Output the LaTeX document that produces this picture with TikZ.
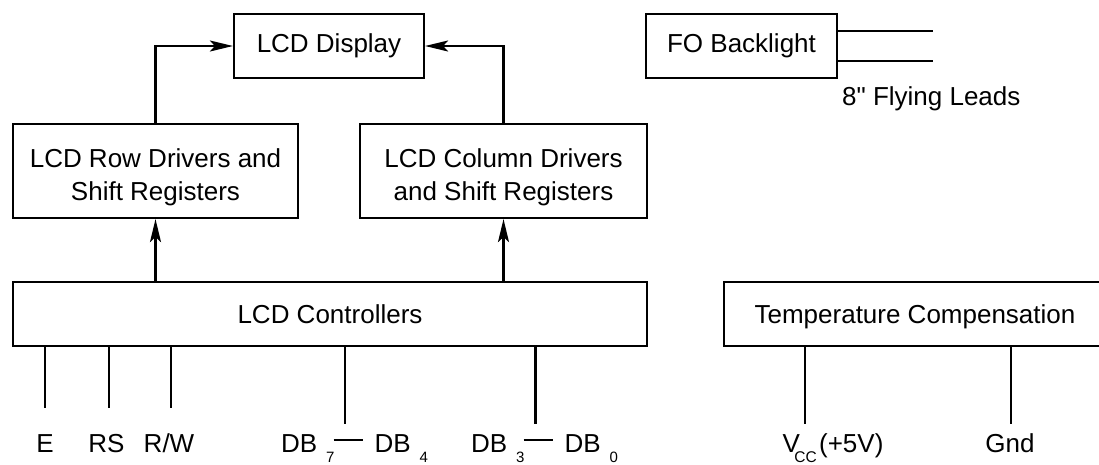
\documentclass[tikz,border=0pt]{standalone}
\usepackage{fontspec}
\setmainfont{Liberation Sans}
\usetikzlibrary{arrows.meta}
\newcommand{\lowsub}[1]{\kern9pt\raisebox{-10pt}{\fontsize{15}{15}\selectfont #1}}
\newcommand{\busdash}{\kern-1pt\rule[11pt]{29pt}{2pt}\kern12pt}
\newcommand{\twolines}[2]{\begin{tabular}{@{}c@{}}\rule{0pt}{35pt}#1\\#2\end{tabular}}
\begin{document}
\begin{tikzpicture}[x=1pt,y=1pt,line width=2.2pt]
  \tikzstyle{every node}+=[inner sep=0pt,font=\fontsize{26}{33}\selectfont]
  \tikzstyle{box}=[draw,align=center]
  \tikzstyle{arr}=[-{Stealth[length=23pt,width=11pt,inset=5pt]}]
  \tikzstyle{pin}=[anchor=base]
  \useasboundingbox (0,0) rectangle (1099,-464);
  \node[box,minimum width=190,minimum height=64] (disp) at (329,-46) {LCD Display};
  \node[box,minimum width=191,minimum height=64] (fo) at (741.5,-46) {FO Backlight};
  \node[box,minimum width=285,minimum height=94] (row) at (155.5,-171) {\twolines{LCD Row Drivers and}{Shift Registers}};
  \node[box,minimum width=287,minimum height=94] (col) at (503.5,-171) {\twolines{LCD Column Drivers}{and Shift Registers}};
  \node[box,minimum width=634,minimum height=64,text depth=0pt] (ctrl) at (330,-314) {LCD Controllers};
  \node[box,minimum width=382,minimum height=64,text depth=0pt] (temp) at (915,-314) {Temperature Compensation};
  \draw[arr] (row.north) |- (disp.west);
  \draw[arr] (col.north) |- (disp.east);
  \draw[arr] (ctrl.north -| row.south) -- (row.south);
  \draw[arr] (ctrl.north -| col.south) -- (col.south);
  \coordinate (lead1) at (933,-31);
  \coordinate (lead2) at (933,-61);
  \draw (fo.east |- lead1) -- (lead1);
  \draw (fo.east |- lead2) -- (lead2);
  \node[anchor=base west] (leads) at (841,-105) {8\textquotedbl{} Flying Leads};
  \coordinate (e) at (45,-408);
  \coordinate (rs) at (109,-408);
  \coordinate (rw) at (171,-408);
  \coordinate (dbhi) at (345,-424);
  \coordinate (dblo) at (535.5,-424);
  \coordinate (vcc) at (805,-424);
  \coordinate (gnd) at (1011,-424);
  \foreach \p in {e,rs,rw,dbhi,dblo}
    \draw (ctrl.south -| \p) -- (\p);
  \foreach \p in {vcc,gnd}
    \draw (temp.south -| \p) -- (\p);
  \node[pin] (le) at (45,-452) {E};
  \node[pin] (lrs) at (106.5,-452) {RS};
  \node[pin] (lrw) at (169,-452) {R/W};
  \node[pin,anchor=base west] (ldbhi) at (280,-452) {DB\lowsub{7}\busdash DB\lowsub{4}};
  \node[pin,anchor=base west] (ldblo) at (470,-452) {DB\lowsub{3}\busdash DB\lowsub{0}};
  \node[pin,anchor=base west] (lvcc) at (781.5,-452) {V\kern-5.5pt\raisebox{-10pt}{\fontsize{15.5}{15.5}\selectfont CC}\kern2.3pt(+5V)};
  \node[pin] (lgnd) at (1010,-452) {Gnd};
\end{tikzpicture}
\end{document}
